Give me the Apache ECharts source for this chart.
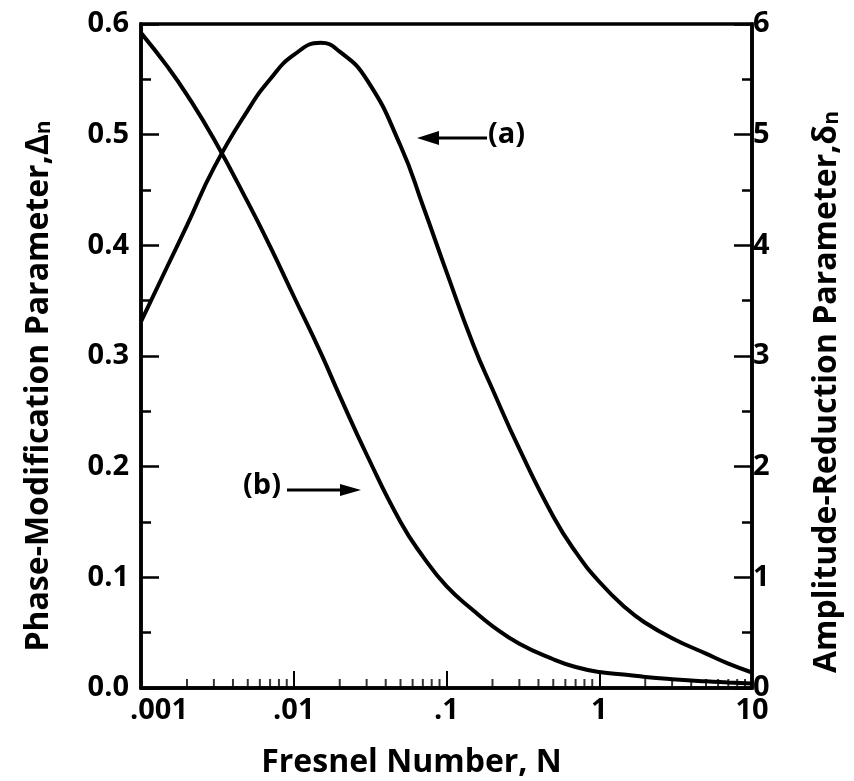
<!DOCTYPE html>
<html>
<head>
<meta charset="utf-8">
<script src="https://cdn.jsdelivr.net/npm/echarts@6/dist/echarts.min.js"></script>
<style>
html,body{margin:0;padding:0;background:#fff;}
#chart{width:854px;height:781px;}
</style>
</head>
<body>
<div id="chart"></div>
<script>
// Fresnel number N (log scale)
var fresnelN = [0.001, 0.0015, 0.002, 0.003, 0.005, 0.007, 0.01, 0.015, 0.02, 0.03, 0.05, 0.07, 0.1, 0.15, 0.2, 0.3, 0.5, 0.7, 1, 1.5, 2, 3, 5, 7, 10];
// (a) Amplitude-Reduction Parameter, delta_n (right axis)
var amplitudeA = [3.31, 3.82, 4.18, 4.70, 5.22, 5.50, 5.72, 5.83, 5.75, 5.50, 4.90, 4.36, 3.76, 3.10, 2.70, 2.16, 1.55, 1.23, 0.96, 0.72, 0.59, 0.45, 0.31, 0.22, 0.14];
// (b) Phase-Modification Parameter, Delta_n (left axis)
var phaseB = [0.592, 0.561, 0.536, 0.496, 0.439, 0.399, 0.354, 0.303, 0.264, 0.211, 0.150, 0.119, 0.092, 0.070, 0.056, 0.040, 0.026, 0.019, 0.0145, 0.012, 0.010, 0.008, 0.006, 0.005, 0.004];
// tick labels
var xTickLabels = ['.001', '.01', '.1', '1', '10'];
var leftTickLabels = ['0.0', '0.1', '0.2', '0.3', '0.4', '0.5', '0.6'];
var rightTickLabels = ['0', '1', '2', '3', '4', '5', '6'];
var xMinorMultipliers = [2, 3, 4, 5, 6, 7, 8, 9];
var xDecades = [0.001, 0.01, 0.1, 1];

var FONT = '"Open Sans", "Noto Sans", sans-serif';

var minorTickData = [];
xDecades.forEach(function (d) {
  xMinorMultipliers.forEach(function (m) { minorTickData.push([d * m, 0]); });
});

function zip(xs, ys) { return xs.map(function (x, i) { return [x, ys[i]]; }); }

var chart = echarts.init(document.getElementById('chart'), null, { renderer: 'canvas' });

var TS = 32;
var titleRich = {
  d: { fontSize: TS, fontWeight: 'bold', fontFamily: FONT, color: '#000' },
  n: { fontSize: 21, fontWeight: 'bold', fontFamily: FONT, color: '#000', verticalAlign: 'bottom', padding: [12, 0, 0, 0] }
};

var option = {
  animation: false,
  backgroundColor: '#fff',
  grid: { left: 141, right: 102, top: 24, bottom: 93, show: true, borderColor: '#000', borderWidth: 3.5, containLabel: false, outerBoundsMode: 'none' },
  xAxis: {
    type: 'log', logBase: 10, min: 0.001, max: 10,
    name: 'Fresnel Number, N', nameLocation: 'middle', nameGap: 59,
    nameTextStyle: { fontSize: TS, fontWeight: 'bold', fontFamily: FONT, color: '#000', padding: [0, 70, 0, 0] },
    axisLine: { show: true, lineStyle: { color: '#000', width: 3.5 } },
    axisTick: { show: true, inside: true, length: 17, lineStyle: { color: '#000', width: 2 } },
    minorTick: { show: false },
    splitLine: { show: false },
    axisLabel: {
      margin: 8, fontSize: 29, fontWeight: 'bold', fontFamily: FONT, color: '#000',
      formatter: function (v) {
        var i = Math.round(Math.log10(v)) + 3;
        if (i === 0) return '{f|' + xTickLabels[i] + '}';
        return xTickLabels[i] || '';
      },
      rich: { f: { fontSize: 29, fontWeight: 'bold', fontFamily: FONT, color: '#000', padding: [0, 0, 0, 36] } }
    }
  },
  yAxis: [
    {
      type: 'value', position: 'left', min: 0, max: 0.6, interval: 0.1,
      name: 'Phase-Modification Parameter,{d|Δ}{n|n}', nameLocation: 'middle', nameGap: 86, nameRotate: 90,
      nameTextStyle: { fontSize: TS, fontWeight: 'bold', fontFamily: FONT, color: '#000', rich: titleRich, padding: [0, 60, 0, 0] },
      axisLine: { show: true, lineStyle: { color: '#000', width: 3.5 } },
      axisTick: { show: true, inside: true, length: 18, lineStyle: { color: '#000', width: 2.5 } },
      minorTick: { show: true, splitNumber: 2, length: 10, lineStyle: { color: '#000', width: 2.5 } },
      splitLine: { show: false },
      axisLabel: {
        margin: 12, fontSize: 29, fontWeight: 'bold', fontFamily: FONT, color: '#000',
        formatter: function (v) { return leftTickLabels[Math.round(v * 10)]; }
      }
    },
    {
      type: 'value', position: 'right', min: 0, max: 6, interval: 1,
      name: 'Amplitude-Reduction Parameter,{d|δ}{n|n}', nameLocation: 'middle', nameGap: 58, nameRotate: 90,
      nameTextStyle: { fontSize: TS, fontWeight: 'bold', fontFamily: FONT, color: '#000', rich: titleRich, padding: [0, 72, 0, 0] },
      axisLine: { show: true, lineStyle: { color: '#000', width: 3.5 } },
      axisTick: { show: true, inside: true, length: 18, lineStyle: { color: '#000', width: 2.5 } },
      minorTick: { show: true, splitNumber: 2, length: 10, lineStyle: { color: '#000', width: 2.5 } },
      splitLine: { show: false },
      axisLabel: {
        margin: 1, fontSize: 29, fontWeight: 'bold', fontFamily: FONT, color: '#000',
        formatter: function (v) { return rightTickLabels[Math.round(v)]; }
      }
    }
  ],
  series: [
    {
      name: '(a)', type: 'line', yAxisIndex: 1, smooth: 0.5, showSymbol: false,
      lineStyle: { color: '#000', width: 4 }, data: zip(fresnelN, amplitudeA), z: 3
    },
    {
      name: '(b)', type: 'line', yAxisIndex: 0, smooth: 0.5, showSymbol: false,
      lineStyle: { color: '#000', width: 4 }, data: zip(fresnelN, phaseB), z: 3
    },
    {
      name: 'xMinorTicks', type: 'scatter', yAxisIndex: 0, silent: true, clip: false,
      symbol: 'rect', symbolSize: [2, 9], symbolOffset: [0, -4.5],
      itemStyle: { color: '#000' }, data: minorTickData, z: 4
    }
  ],
  graphic: [
    { type: 'line', shape: { x1: 436, y1: 138, x2: 487, y2: 138 }, style: { stroke: '#000', lineWidth: 3 } },
    { type: 'polygon', shape: { points: [[417, 138], [439, 131], [439, 145]] }, style: { fill: '#000' } },
    { type: 'text', left: 488, top: 120, style: { text: '(a)', fontSize: 29, fontWeight: 'bold', fontFamily: FONT, fill: '#000' } },
    { type: 'text', left: 243, top: 471, style: { text: '(b)', fontSize: 29, fontWeight: 'bold', fontFamily: FONT, fill: '#000' } },
    { type: 'line', shape: { x1: 287, y1: 490, x2: 342, y2: 490 }, style: { stroke: '#000', lineWidth: 3 } },
    { type: 'polygon', shape: { points: [[361, 490], [340, 484], [340, 496]] }, style: { fill: '#000' } }
  ]
};
chart.setOption(option);
</script>
</body>
</html>
